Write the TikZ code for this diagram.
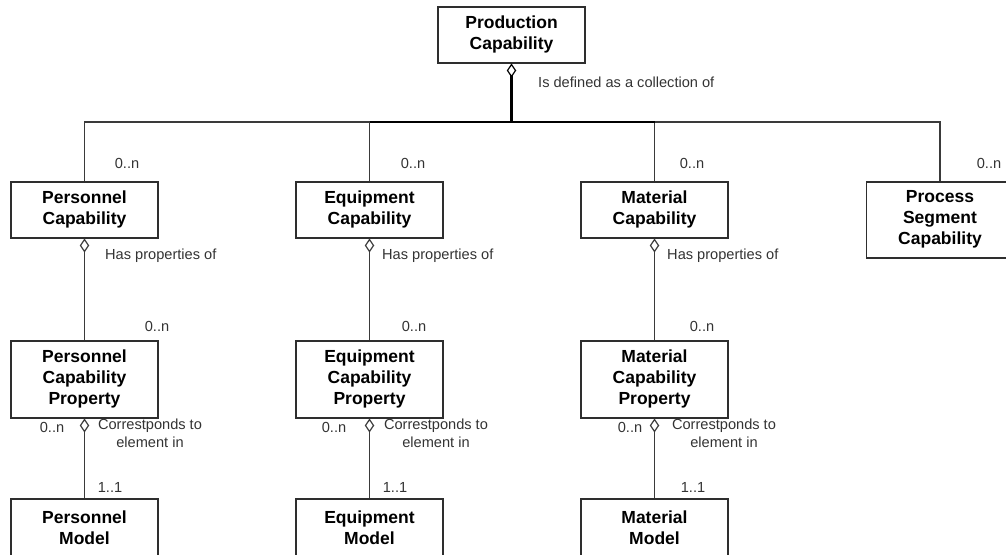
\documentclass[tikz,border=0pt]{standalone}
\usepackage{fontspec}
\setmainfont{Liberation Sans}
\usetikzlibrary{arrows.meta}
\definecolor{boxline}{HTML}{2E2E2E}
\definecolor{wire}{HTML}{3A3A3A}
\definecolor{labeltxt}{HTML}{333333}
\begin{document}
\begin{tikzpicture}[x=1pt,y=-1pt,
  cls/.style={draw=boxline, line width=1.5pt, fill=white, minimum width=147pt,
    minimum height=56pt, align=center, inner sep=0pt, anchor=north,
    font=\fontsize{17.5}{21}\selectfont\bfseries},
  tall/.style={cls, minimum height=77pt},
  lbl/.style={text=labeltxt, inner sep=0pt, font=\fontsize{14.6}{18}\selectfont},
  link/.style={draw=wire, line width=1.3pt},
  agg/.style={draw=wire, line width=1.3pt,
    arrows={Diamond[open, length=14pt, width=9.5pt, line width=1.2pt]-}},
  busline/.style={draw=black, line width=2pt}
]
\clip (0,0) rectangle (1006,554);

% top-level class
\node[cls] (prod) at (511.5,6) {Production\\Capability};
\coordinate (hub) at (511.5,122);

% capability row
\node[cls] (perC)  at (84.5,181)  {Personnel\\Capability};
\node[cls] (eqC)   at (369.5,181) {Equipment\\Capability};
\node[cls] (matC)  at (654.5,181) {Material\\Capability};
\node[cls, minimum height=76pt] (procC) at (940,181) {Process\\Segment\\Capability};

% property row
\node[tall] (perP) at (84.5,340)  {Personnel\\Capability\\Property};
\node[tall] (eqP)  at (369.5,340) {Equipment\\Capability\\Property};
\node[tall] (matP) at (654.5,340) {Material\\Capability\\Property};

% model row
\node[cls, minimum height=58pt] (perM) at (84.5,498)  {Personnel\\Model};
\node[cls, minimum height=58pt] (eqM)  at (369.5,498) {Equipment\\Model};
\node[cls, minimum height=58pt] (matM) at (654.5,498) {Material\\Model};

% collection bus
\draw[link] (perC.north) |- (hub);
\draw[link] (eqC.north) |- (hub);
\draw[link] (matC.north) |- (hub);
\draw[link] (procC.north) |- (hub);
\draw[busline] (eqC.north |- hub) -- (hub);
\draw[busline, line width=1.7pt] (hub) -- (matC.north |- hub);
\draw[agg, line width=2.2pt, draw=black] (prod.south) -- (hub);

% aggregations below each capability
\draw[agg] (perC.south) -- (perP.north);
\draw[agg] (eqC.south) -- (eqP.north);
\draw[agg] (matC.south) -- (matP.north);
\draw[agg] (perP.south) -- (perM.north);
\draw[agg] (eqP.south) -- (eqM.north);
\draw[agg] (matP.south) -- (matM.north);

% association labels
\node[lbl, anchor=west] (lDef) at (538,82) {Is defined as a collection of};
\node[lbl] (m1) at (127,163) {0..n};
\node[lbl] (m2) at (413,163) {0..n};
\node[lbl] (m3) at (692,163) {0..n};
\node[lbl] (m4) at (989,163) {0..n};

\node[lbl, anchor=west] (h1) at (105,256) {Has properties of};
\node[lbl, anchor=west] (h2) at (382,256) {Has properties of};
\node[lbl, anchor=west] (h3) at (667,256) {Has properties of};

\node[lbl] (p1) at (157,326) {0..n};
\node[lbl] (p2) at (414,326) {0..n};
\node[lbl] (p3) at (702,326) {0..n};

\node[lbl] (q1) at (52,427) {0..n};
\node[lbl] (q2) at (334,427) {0..n};
\node[lbl] (q3) at (630,427) {0..n};

\node[lbl, align=center, anchor=north] (c1) at (150,419) {Correstponds to\\element in};
\node[lbl, align=center, anchor=north] (c2) at (436,419) {Correstponds to\\element in};
\node[lbl, align=center, anchor=north] (c3) at (724,419) {Correstponds to\\element in};

\node[lbl] (o1) at (110,487) {1..1};
\node[lbl] (o2) at (395,487) {1..1};
\node[lbl] (o3) at (693,487) {1..1};
\end{tikzpicture}
\end{document}
